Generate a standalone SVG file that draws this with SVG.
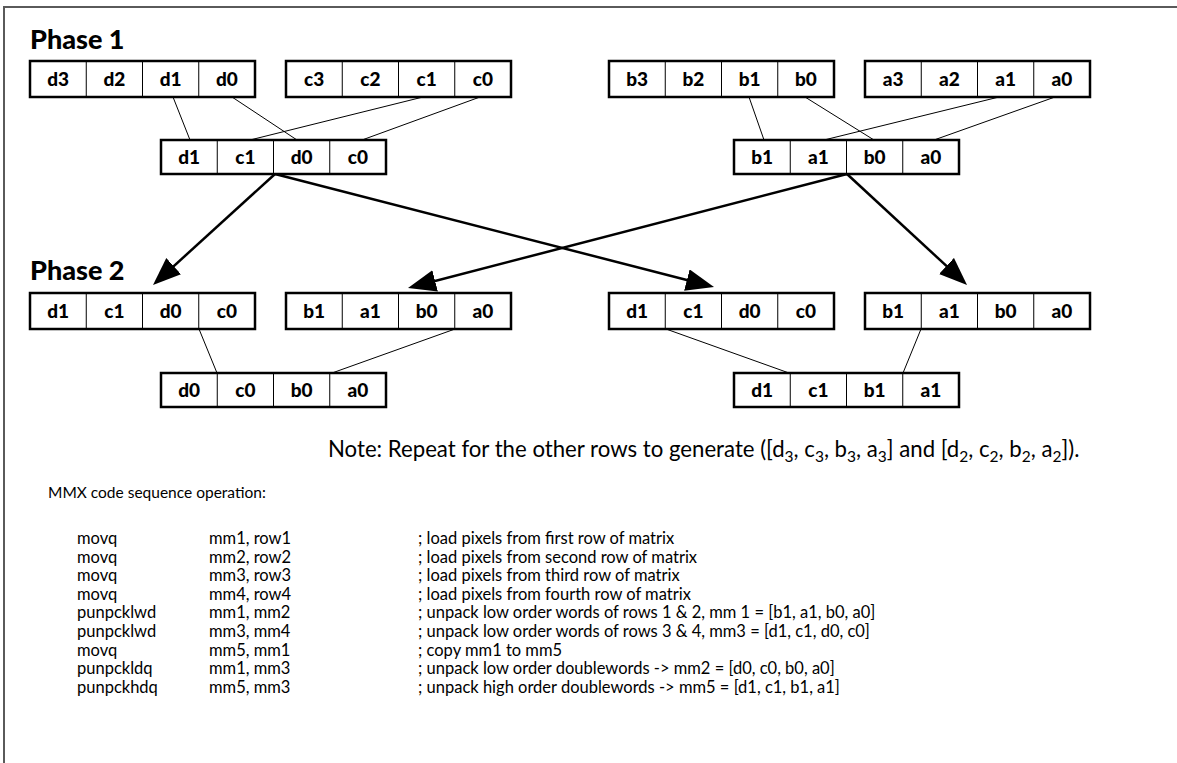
<svg xmlns="http://www.w3.org/2000/svg" width="1177" height="763" viewBox="0 0 1177 763">
<style>
.frame{stroke:#5a5a5a;stroke-width:2;fill:none}
.box{fill:#fff;stroke:#000;stroke-width:2.5}
.div{stroke:#000;stroke-width:1}
.cell{font-family:Lato,"Open Sans",sans-serif;font-weight:900;font-size:19px;text-anchor:middle;fill:#000}
.phase{font-family:Lato,"Open Sans",sans-serif;font-weight:900;font-size:27px;fill:#000}
.thin{stroke:#000;stroke-width:1;fill:none}
.arrow{stroke:#000;stroke-width:2.5;fill:none;marker-end:url(#ah)}
.txt{font-family:Lato,"Open Sans",sans-serif;font-size:16.5px;fill:#000}
.mmx{font-family:Lato,"Open Sans",sans-serif;font-size:15.5px;fill:#000}
.note{font-family:Lato,"Open Sans",sans-serif;font-size:22.2px;fill:#000}
.sub{font-size:15.5px}
</style>
<defs>
<marker id="ah" markerUnits="userSpaceOnUse" markerWidth="30" markerHeight="24" refX="18" refY="11" orient="auto">
<path d="M0,0 L28,11 L0,22 z" fill="#000"/>
</marker>
</defs>
<rect width="1177" height="763" fill="#fff"/>
<path class="frame" d="M4,763 L4,7 L1177,7"/>
<text class="phase" x="30" y="49">Phase 1</text>
<text class="phase" x="30" y="280">Phase 2</text>

<g id="connectors">
<line class="thin" x1="173" y1="97" x2="190" y2="140"/>
<line class="thin" x1="232" y1="97" x2="297" y2="140"/>
<line class="thin" x1="423" y1="97" x2="250" y2="140"/>
<line class="thin" x1="480" y1="97" x2="362" y2="140"/>
<line class="thin" x1="749" y1="97" x2="764" y2="140"/>
<line class="thin" x1="805" y1="97" x2="874" y2="140"/>
<line class="thin" x1="999" y1="97" x2="824" y2="140"/>
<line class="thin" x1="1055" y1="97" x2="934" y2="140"/>
<line class="arrow" x1="275" y1="174" x2="160.4" y2="278.3"/>
<line class="arrow" x1="275" y1="174" x2="704.3" y2="284.5"/>
<line class="arrow" x1="847" y1="174" x2="417.7" y2="285.5"/>
<line class="arrow" x1="847" y1="174" x2="959.7" y2="278.2"/>
<line class="thin" x1="199" y1="329" x2="217" y2="373"/>
<line class="thin" x1="455" y1="329" x2="332" y2="373"/>
<line class="thin" x1="666" y1="329" x2="789" y2="373"/>
<line class="thin" x1="921" y1="329" x2="903" y2="373"/>
</g>

<g id="p1-d">
<rect class="box" x="30" y="61" width="225" height="36"/>
<line class="div" x1="86.25" y1="61" x2="86.25" y2="97"/><line class="div" x1="142.5" y1="61" x2="142.5" y2="97"/><line class="div" x1="198.75" y1="61" x2="198.75" y2="97"/>
<text class="cell" x="58.1" y="86">d3</text><text class="cell" x="114.4" y="86">d2</text><text class="cell" x="170.6" y="86">d1</text><text class="cell" x="226.9" y="86">d0</text>
</g>
<g id="p1-c">
<rect class="box" x="286" y="61" width="225" height="36"/>
<line class="div" x1="342.25" y1="61" x2="342.25" y2="97"/><line class="div" x1="398.5" y1="61" x2="398.5" y2="97"/><line class="div" x1="454.75" y1="61" x2="454.75" y2="97"/>
<text class="cell" x="314.1" y="86">c3</text><text class="cell" x="370.4" y="86">c2</text><text class="cell" x="426.6" y="86">c1</text><text class="cell" x="482.9" y="86">c0</text>
</g>
<g id="p1-b">
<rect class="box" x="609" y="61" width="225" height="36"/>
<line class="div" x1="665.25" y1="61" x2="665.25" y2="97"/><line class="div" x1="721.5" y1="61" x2="721.5" y2="97"/><line class="div" x1="777.75" y1="61" x2="777.75" y2="97"/>
<text class="cell" x="637.1" y="86">b3</text><text class="cell" x="693.4" y="86">b2</text><text class="cell" x="749.6" y="86">b1</text><text class="cell" x="805.9" y="86">b0</text>
</g>
<g id="p1-a">
<rect class="box" x="865" y="61" width="225" height="36"/>
<line class="div" x1="921.25" y1="61" x2="921.25" y2="97"/><line class="div" x1="977.5" y1="61" x2="977.5" y2="97"/><line class="div" x1="1033.75" y1="61" x2="1033.75" y2="97"/>
<text class="cell" x="893.1" y="86">a3</text><text class="cell" x="949.4" y="86">a2</text><text class="cell" x="1005.6" y="86">a1</text><text class="cell" x="1061.9" y="86">a0</text>
</g>
<g id="p1-dc">
<rect class="box" x="161" y="140" width="225" height="34"/>
<line class="div" x1="217.25" y1="140" x2="217.25" y2="174"/><line class="div" x1="273.5" y1="140" x2="273.5" y2="174"/><line class="div" x1="329.75" y1="140" x2="329.75" y2="174"/>
<text class="cell" x="189.1" y="164">d1</text><text class="cell" x="245.4" y="164">c1</text><text class="cell" x="301.6" y="164">d0</text><text class="cell" x="357.9" y="164">c0</text>
</g>
<g id="p1-ba">
<rect class="box" x="734" y="140" width="225" height="34"/>
<line class="div" x1="790.25" y1="140" x2="790.25" y2="174"/><line class="div" x1="846.5" y1="140" x2="846.5" y2="174"/><line class="div" x1="902.75" y1="140" x2="902.75" y2="174"/>
<text class="cell" x="762.1" y="164">b1</text><text class="cell" x="818.4" y="164">a1</text><text class="cell" x="874.6" y="164">b0</text><text class="cell" x="930.9" y="164">a0</text>
</g>
<g id="p2-dc1">
<rect class="box" x="30" y="293" width="225" height="36"/>
<line class="div" x1="86.25" y1="293" x2="86.25" y2="329"/><line class="div" x1="142.5" y1="293" x2="142.5" y2="329"/><line class="div" x1="198.75" y1="293" x2="198.75" y2="329"/>
<text class="cell" x="58.1" y="318">d1</text><text class="cell" x="114.4" y="318">c1</text><text class="cell" x="170.6" y="318">d0</text><text class="cell" x="226.9" y="318">c0</text>
</g>
<g id="p2-ba1">
<rect class="box" x="286" y="293" width="225" height="36"/>
<line class="div" x1="342.25" y1="293" x2="342.25" y2="329"/><line class="div" x1="398.5" y1="293" x2="398.5" y2="329"/><line class="div" x1="454.75" y1="293" x2="454.75" y2="329"/>
<text class="cell" x="314.1" y="318">b1</text><text class="cell" x="370.4" y="318">a1</text><text class="cell" x="426.6" y="318">b0</text><text class="cell" x="482.9" y="318">a0</text>
</g>
<g id="p2-dc2">
<rect class="box" x="609" y="293" width="225" height="36"/>
<line class="div" x1="665.25" y1="293" x2="665.25" y2="329"/><line class="div" x1="721.5" y1="293" x2="721.5" y2="329"/><line class="div" x1="777.75" y1="293" x2="777.75" y2="329"/>
<text class="cell" x="637.1" y="318">d1</text><text class="cell" x="693.4" y="318">c1</text><text class="cell" x="749.6" y="318">d0</text><text class="cell" x="805.9" y="318">c0</text>
</g>
<g id="p2-ba2">
<rect class="box" x="865" y="293" width="225" height="36"/>
<line class="div" x1="921.25" y1="293" x2="921.25" y2="329"/><line class="div" x1="977.5" y1="293" x2="977.5" y2="329"/><line class="div" x1="1033.75" y1="293" x2="1033.75" y2="329"/>
<text class="cell" x="893.1" y="318">b1</text><text class="cell" x="949.4" y="318">a1</text><text class="cell" x="1005.6" y="318">b0</text><text class="cell" x="1061.9" y="318">a0</text>
</g>
<g id="p2-low">
<rect class="box" x="161" y="373" width="225" height="34"/>
<line class="div" x1="217.25" y1="373" x2="217.25" y2="407"/><line class="div" x1="273.5" y1="373" x2="273.5" y2="407"/><line class="div" x1="329.75" y1="373" x2="329.75" y2="407"/>
<text class="cell" x="189.1" y="397">d0</text><text class="cell" x="245.4" y="397">c0</text><text class="cell" x="301.6" y="397">b0</text><text class="cell" x="357.9" y="397">a0</text>
</g>
<g id="p2-high">
<rect class="box" x="734" y="373" width="225" height="34"/>
<line class="div" x1="790.25" y1="373" x2="790.25" y2="407"/><line class="div" x1="846.5" y1="373" x2="846.5" y2="407"/><line class="div" x1="902.75" y1="373" x2="902.75" y2="407"/>
<text class="cell" x="762.1" y="397">d1</text><text class="cell" x="818.4" y="397">c1</text><text class="cell" x="874.6" y="397">b1</text><text class="cell" x="930.9" y="397">a1</text>
</g>

<text class="note" x="328" y="457">Note: Repeat for the other rows to generate ([d<tspan class="sub" dy="5">3</tspan><tspan dy="-5">, c</tspan><tspan class="sub" dy="5">3</tspan><tspan dy="-5">, b</tspan><tspan class="sub" dy="5">3</tspan><tspan dy="-5">, a</tspan><tspan class="sub" dy="5">3</tspan><tspan dy="-5">] and [d</tspan><tspan class="sub" dy="5">2</tspan><tspan dy="-5">, c</tspan><tspan class="sub" dy="5">2</tspan><tspan dy="-5">, b</tspan><tspan class="sub" dy="5">2</tspan><tspan dy="-5">, a</tspan><tspan class="sub" dy="5">2</tspan><tspan dy="-5">]).</tspan></text>

<text class="mmx" x="48" y="498">MMX code sequence operation:</text>
<g class="txt">
<text x="77" y="544">movq</text><text x="209" y="544">mm1, row1</text><text x="418" y="544">; load pixels from first row of matrix</text>
<text x="77" y="562.6">movq</text><text x="209" y="562.6">mm2, row2</text><text x="418" y="562.6">; load pixels from second row of matrix</text>
<text x="77" y="581.2">movq</text><text x="209" y="581.2">mm3, row3</text><text x="418" y="581.2">; load pixels from third row of matrix</text>
<text x="77" y="599.8">movq</text><text x="209" y="599.8">mm4, row4</text><text x="418" y="599.8">; load pixels from fourth row of matrix</text>
<text x="77" y="618.4">punpcklwd</text><text x="209" y="618.4">mm1, mm2</text><text x="418" y="618.4">; unpack low order words of rows 1 &amp; 2, mm 1 = [b1, a1, b0, a0]</text>
<text x="77" y="637">punpcklwd</text><text x="209" y="637">mm3, mm4</text><text x="418" y="637">; unpack low order words of rows 3 &amp; 4, mm3 = [d1, c1, d0, c0]</text>
<text x="77" y="655.6">movq</text><text x="209" y="655.6">mm5, mm1</text><text x="418" y="655.6">; copy mm1 to mm5</text>
<text x="77" y="674.2">punpckldq</text><text x="209" y="674.2">mm1, mm3</text><text x="418" y="674.2">; unpack low order doublewords -&gt; mm2 = [d0, c0, b0, a0]</text>
<text x="77" y="692.8">punpckhdq</text><text x="209" y="692.8">mm5, mm3</text><text x="418" y="692.8">; unpack high order doublewords -&gt; mm5 = [d1, c1, b1, a1]</text>
</g>
</svg>
